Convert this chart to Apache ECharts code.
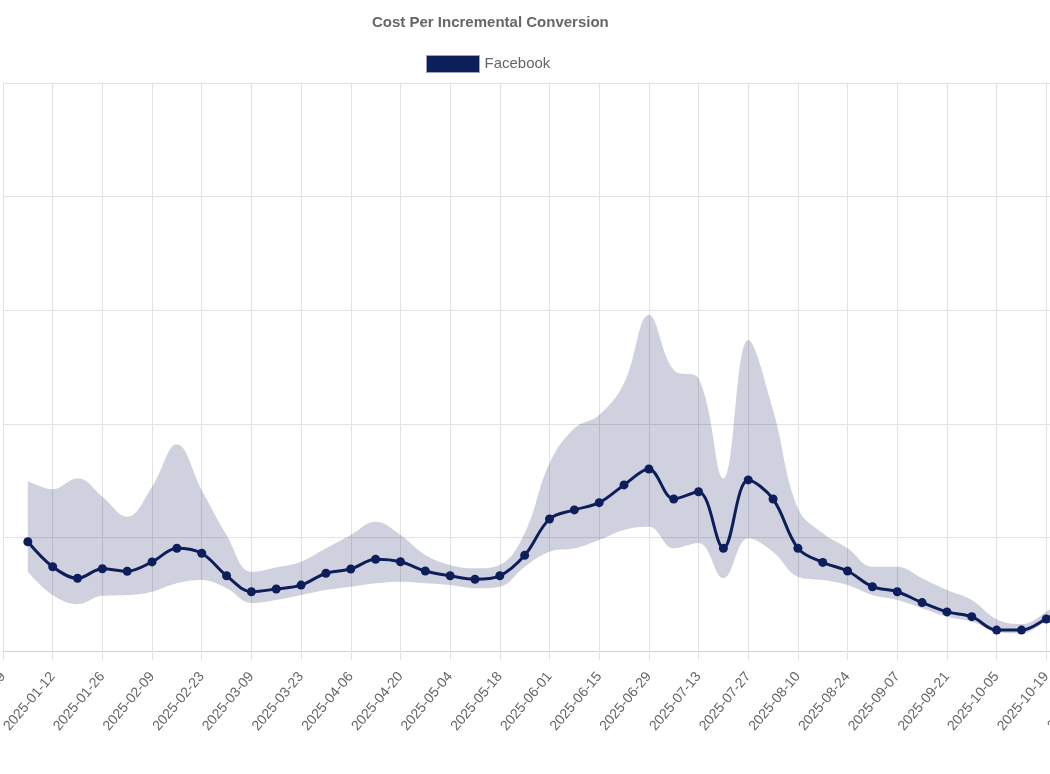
<!DOCTYPE html>
<html>
<head>
<meta charset="utf-8">
<script src="https://cdn.jsdelivr.net/npm/echarts@6/dist/echarts.min.js"></script>
<style>
  html, body { margin: 0; padding: 0; background: #fff; }
  #chart-container { width: 1050px; height: 774px; }
</style>
</head>
<body>
<div id="chart-container"></div>
<script>
// weekly categories (every other one gets a label)
var weeks = [
  '2024-12-29', '2025-01-05', '2025-01-12', '2025-01-19', '2025-01-26', '2025-02-02',
  '2025-02-09', '2025-02-16', '2025-02-23', '2025-03-02', '2025-03-09', '2025-03-16',
  '2025-03-23', '2025-03-30', '2025-04-06', '2025-04-13', '2025-04-20', '2025-04-27',
  '2025-05-04', '2025-05-11', '2025-05-18', '2025-05-25', '2025-06-01', '2025-06-08',
  '2025-06-15', '2025-06-22', '2025-06-29', '2025-07-06', '2025-07-13', '2025-07-20',
  '2025-07-27', '2025-08-03', '2025-08-10', '2025-08-17', '2025-08-24', '2025-08-31',
  '2025-09-07', '2025-09-14', '2025-09-21', '2025-09-28', '2025-10-05', '2025-10-12',
  '2025-10-19', '2025-10-26', '2025-11-02'
];

// Facebook, from 2025-01-05 to 2025-10-26
var facebook = [48.1, 37.1, 32.0, 36.2, 35.1, 39.2, 45.2, 43.0, 33.1, 26.1, 27.3, 29.0,
  34.2, 36.1, 40.4, 39.3, 35.2, 33.1, 31.6, 33.1, 42.1, 58.1, 62.1, 65.3, 73.1, 80.1,
  66.9, 70.1, 45.2, 75.3, 66.9, 45.2, 39.0, 35.2, 28.3, 26.1, 21.3, 17.2, 15.1, 9.2,
  9.2, 14.1, 19.5];
var upper = [74.8, 71.2, 76.0, 67.9, 59.1, 72.3, 91.0, 70.9, 51.1, 34.9, 36.8, 39.3,
  45.2, 51.1, 56.9, 51.1, 42.3, 37.9, 36.4, 37.9, 51.8, 82.6, 98.0, 103.9, 117.8, 147.9,
  123.7, 120.0, 76.0, 136.9, 106.1, 62.8, 51.8, 45.2, 37.1, 37.1, 32.0, 26.8, 22.4, 14.0,
  11.9, 17.3, 26.0];
var lower = [34.9, 24.6, 20.6, 24.3, 24.6, 26.1, 29.8, 31.2, 27.6, 21.1, 22.4, 24.6,
  26.8, 28.3, 29.8, 30.5, 29.8, 29.0, 27.6, 28.3, 37.1, 43.7, 45.2, 48.9, 53.3, 54.7,
  45.2, 47.5, 32.0, 49.6, 43.6, 32.7, 31.2, 29.0, 24.6, 22.4, 18.8, 15.1, 12.9, 8.5,
  7.8, 12.9, 16.5];

var navy = '#0e1e5b';
var font = 'Liberation Sans';

// pad to the category list (first week has no data, last week beyond the data)
function pad(arr) {
  var out = ['-'].concat(arr);
  while (out.length < weeks.length) out.push('-');
  return out;
}
var bandBase = pad(lower);
var bandSpan = pad(upper.map(function (v, i) { return +(v - lower[i]).toFixed(2); }));

var dom = document.getElementById('chart-container');
var myChart = echarts.init(dom, null, { renderer: 'canvas' });

var option = {
  animation: false,
  title: {
    text: 'Cost Per Incremental Conversion',
    left: 372,
    top: 15,
    padding: 0,
    textStyle: { color: '#666', fontSize: 15, fontWeight: 'bold', fontFamily: font }
  },
  legend: {
    data: ['Facebook'],
    left: 426,
    top: 55,
    padding: 0,
    icon: 'rect',
    itemWidth: 53,
    itemHeight: 17,
    itemGap: 6,
    textStyle: { color: '#666', fontSize: 15, fontFamily: font, padding: [3, 0, 0, 0] },
    itemStyle: { color: navy, borderColor: '#9aa1bd', borderWidth: 1 }
  },
  grid: { left: 3, right: -46, top: 83, bottom: 123, outerBoundsMode: 'none', containLabel: false },
  xAxis: {
    type: 'category',
    data: weeks,
    boundaryGap: false,
    axisLine: { lineStyle: { color: '#cfcfcf', width: 1 } },
    axisTick: { show: true, interval: 1, length: 9, lineStyle: { color: '#e2e2e2' } },
    splitLine: { show: true, interval: 1, lineStyle: { color: '#e2e2e2' } },
    axisLabel: {
      interval: 1,
      rotate: 50,
      margin: 23,
      color: '#666',
      fontSize: 14,
      fontFamily: font
    }
  },
  yAxis: {
    type: 'value',
    min: 0,
    max: 250,
    interval: 50,
    axisLine: { show: false },
    axisTick: { show: false },
    axisLabel: { show: false },
    splitLine: { lineStyle: { color: '#e2e2e2' } }
  },
  series: [
    {
      name: 'lower',
      type: 'line',
      stack: 'band',
      data: bandBase,
      smooth: 0.4,
      symbol: 'none',
      lineStyle: { opacity: 0 },
      silent: true,
      z: 1
    },
    {
      name: 'band',
      type: 'line',
      stack: 'band',
      data: bandSpan,
      smooth: 0.4,
      symbol: 'none',
      lineStyle: { opacity: 0 },
      areaStyle: { color: 'rgba(14,30,91,0.2)', opacity: 1 },
      silent: true,
      z: 1
    },
    {
      name: 'Facebook',
      type: 'line',
      data: pad(facebook),
      smooth: 0.35,
      symbol: 'circle',
      symbolSize: 9,
      itemStyle: { color: navy },
      lineStyle: { color: navy, width: 3 },
      z: 3
    }
  ]
};

myChart.setOption(option);
window.addEventListener('resize', myChart.resize);
</script>
</body>
</html>
